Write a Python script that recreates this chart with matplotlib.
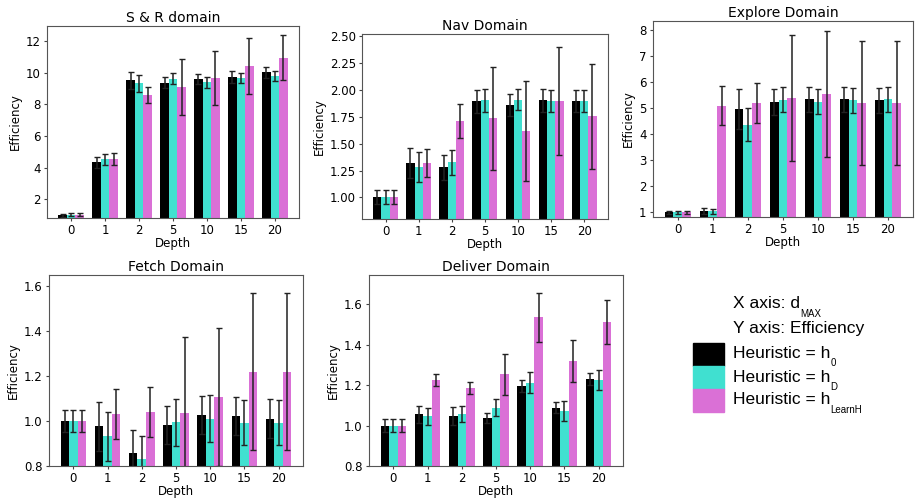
import matplotlib
matplotlib.use("Agg")
import matplotlib.pyplot as plt
import numpy as np

depths = ["0", "1", "2", "5", "10", "15", "20"]
heuristics = ["h0", "hD", "hLearnH"]
colors = ["#000000", "#40E0D0", "#DA70D6"]

# S & R domain
sr_h0 = [0.97, 4.32, 9.53, 9.36, 9.62, 9.72, 10.04]
sr_h0_err = [0.10, 0.35, 0.55, 0.35, 0.33, 0.38, 0.36]
sr_hd = [1.0, 4.51, 9.34, 9.62, 9.40, 9.66, 9.80]
sr_hd_err = [0.10, 0.36, 0.55, 0.35, 0.36, 0.31, 0.32]
sr_hl = [1.0, 4.55, 8.60, 9.09, 9.68, 10.46, 10.95]
sr_hl_err = [0.10, 0.36, 0.53, 1.77, 1.73, 1.77, 1.43]

# Nav domain
nav_h0 = [1.0, 1.32, 1.279, 1.893, 1.859, 1.902, 1.896]
nav_h0_err = [0.065, 0.14, 0.12, 0.105, 0.10, 0.105, 0.105]
nav_hd = [1.0, 1.286, 1.326, 1.902, 1.911, 1.896, 1.896]
nav_hd_err = [0.065, 0.14, 0.12, 0.105, 0.10, 0.105, 0.105]
nav_hl = [1.0, 1.32, 1.707, 1.735, 1.62, 1.896, 1.753]
nav_hl_err = [0.065, 0.13, 0.158, 0.48, 0.465, 0.505, 0.49]

# Explore domain
ex_h0 = [1.0, 1.06, 4.97, 5.25, 5.34, 5.34, 5.30]
ex_h0_err = [0.06, 0.12, 0.78, 0.50, 0.47, 0.48, 0.49]
ex_hd = [1.0, 1.04, 4.37, 5.33, 5.25, 5.30, 5.34]
ex_hd_err = [0.06, 0.10, 0.62, 0.48, 0.47, 0.47, 0.48]
ex_hl = [1.0, 5.10, 5.21, 5.40, 5.53, 5.20, 5.21]
ex_hl_err = [0.06, 0.75, 0.77, 2.41, 2.42, 2.39, 2.38]

# Fetch domain
fe_h0 = [1.0, 0.977, 0.858, 0.981, 1.026, 1.023, 1.011]
fe_h0_err = [0.05, 0.11, 0.10, 0.085, 0.085, 0.085, 0.085]
fe_hd = [1.0, 0.932, 0.830, 0.994, 1.011, 0.993, 0.993]
fe_hd_err = [0.05, 0.11, 0.104, 0.103, 0.103, 0.10, 0.10]
fe_hl = [1.0, 1.032, 1.040, 1.036, 1.107, 1.219, 1.219]
fe_hl_err = [0.05, 0.112, 0.11, 0.34, 0.305, 0.35, 0.35]

# Deliver domain
de_h0 = [1.0, 1.055, 1.048, 1.038, 1.197, 1.088, 1.230]
de_h0_err = [0.031, 0.041, 0.045, 0.026, 0.03, 0.028, 0.031]
de_hd = [1.0, 1.045, 1.056, 1.088, 1.213, 1.073, 1.226]
de_hd_err = [0.031, 0.043, 0.04, 0.043, 0.05, 0.048, 0.05]
de_hl = [1.0, 1.225, 1.187, 1.253, 1.536, 1.319, 1.512]
de_hl_err = [0.031, 0.031, 0.031, 0.10, 0.122, 0.102, 0.108]

panels = [
    ("S & R domain", [sr_h0, sr_hd, sr_hl], [sr_h0_err, sr_hd_err, sr_hl_err],
     [0.0513, 0.564, 0.2748, 0.384], (0.8, 12.97), [2, 4, 6, 8, 10, 12], "{:.0f}"),
    ("Nav Domain", [nav_h0, nav_hd, nav_hl], [nav_h0_err, nav_hd_err, nav_hl_err],
     [0.3948, 0.562, 0.268, 0.370], (0.8, 2.52), [1.0, 1.25, 1.5, 1.75, 2.0, 2.25, 2.5], "{:.2f}"),
    ("Explore Domain", [ex_h0, ex_hd, ex_hl], [ex_h0_err, ex_hd_err, ex_hl_err],
     [0.712, 0.566, 0.2835, 0.392], (0.82, 8.35), [1, 2, 3, 4, 5, 6, 7, 8], "{:.0f}"),
    ("Fetch Domain", [fe_h0, fe_hd, fe_hl], [fe_h0_err, fe_hd_err, fe_hl_err],
     [0.0534, 0.068, 0.277, 0.382], (0.8, 1.65), [0.8, 1.0, 1.2, 1.4, 1.6], "{:.1f}"),
    ("Deliver Domain", [de_h0, de_hd, de_hl], [de_h0_err, de_hd_err, de_hl_err],
     [0.4024, 0.068, 0.277, 0.382], (0.8, 1.745), [0.8, 1.0, 1.2, 1.4, 1.6], "{:.1f}"),
]

fig = plt.figure(figsize=(9.17, 5.0), dpi=100)
x = np.arange(len(depths))
w = 0.25
axes = []
for title, vals, errs, pos, ylim, yticks, fmt in panels:
    ax = fig.add_axes(pos)
    axes.append(ax)
    for i, (v, e) in enumerate(zip(vals, errs)):
        ax.bar(x + (i - 1) * w, v, w, yerr=e, color=colors[i],
               error_kw=dict(ecolor="#222222", elinewidth=1.1, capsize=2, capthick=1.0))
    ax.set_xticks(x)
    ax.set_xticklabels(depths)
    ax.set_ylim(*ylim)
    ax.set_yticks(yticks)
    ax.set_yticklabels([fmt.format(t) for t in yticks])
    ax.tick_params(labelsize=8.5, color="#444444", length=2.5, pad=2)
    ax.tick_params(axis="x", pad=1.5)
    for s in ax.spines.values():
        s.set_color("#555555")
    ax.set_xlabel("Depth", fontsize=8.5, labelpad=0)
    ax.set_ylabel("Efficiency", fontsize=8.5, labelpad=3)
    ax.set_title(title, fontsize=10, pad=3)

# custom legend
lfont = dict(family="Liberation Sans", fontsize=12.5)
tx = 733 / 917


def ypix(p):
    return 1 - p / 500


def line_with_sub(y, main, sub):
    t = fig.text(tx, ypix(y), main, va="center", ha="left", **lfont)
    if sub:
        axes[0].annotate(sub, xy=(1.0, 0.15), xycoords=t, ha="left", va="top",
                         family="Liberation Sans", fontsize=7,
                         annotation_clip=False)
    return t


line_with_sub(304, "X axis: d", "MAX")
line_with_sub(329, "Y axis: Efficiency", None)
line_with_sub(353, "Heuristic = h", "0")
line_with_sub(377, "Heuristic = h", "D")
line_with_sub(400, "Heuristic = h", "LearnH")

patch_y = [(343, 366), (366, 389), (389, 412)]
for (y0, y1), c in zip(patch_y, colors):
    fig.patches.append(plt.Rectangle((693 / 917, 1 - y1 / 500), 31 / 917, (y1 - y0) / 500,
                                     transform=fig.transFigure, color=c, figure=fig))

fig.savefig("out.png", dpi=100)
